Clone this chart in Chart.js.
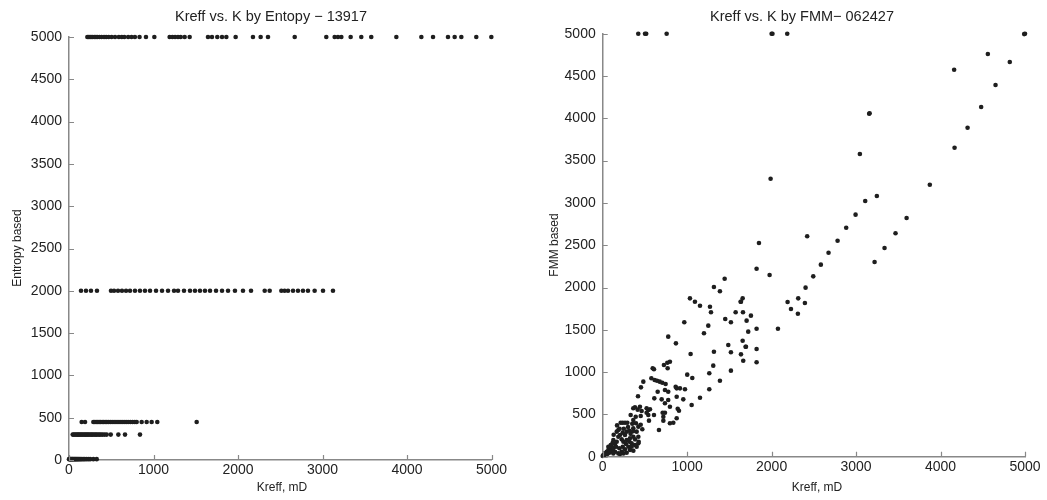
<!DOCTYPE html>
<html><head><meta charset="utf-8">
<script src="https://cdn.jsdelivr.net/npm/chart.js@4.4.1/dist/chart.umd.min.js"></script>
<style>
html,body{margin:0;padding:0;background:#fff;width:1047px;height:500px;overflow:hidden}
.box{position:absolute;top:0;height:500px}
#b1{left:0;width:523px}
#b2{left:523px;width:524px}
canvas{display:block}
</style></head><body>
<div class="box" id="b1"><canvas id="c1"></canvas></div>
<div class="box" id="b2"><canvas id="c2"></canvas></div>
<script>
// ---------- tick labels ----------
const xTickValues = [0, 1000, 2000, 3000, 4000, 5000];
const yTickValues = [0, 500, 1000, 1500, 2000, 2500, 3000, 3500, 4000, 4500, 5000];

// ---------- left chart: Entropy based (rows at discrete levels) ----------
const entropyLevels = [5000, 2000, 450, 300, 10];
const entropyK5000 = [217, 232, 248, 262, 280, 300, 318, 335, 360, 385, 415, 440, 470, 505, 545, 590, 625, 655, 700, 740, 780, 835, 911, 1010,
  1191, 1223, 1255, 1290, 1322, 1369, 1428, 1645, 1692, 1755, 1811, 1862, 1972, 2177, 2268, 2355, 2671,
  3045, 3144, 3183, 3223, 3333, 3459, 3577, 3874, 4170, 4308, 4485, 4564, 4643, 4820, 4998];
const entropyK2000 = [142, 201, 260, 331, 497, 533, 580, 627, 675, 722, 781, 840, 899, 959, 1030, 1101, 1172,
  1243, 1290, 1361, 1432, 1491, 1550, 1609, 1669, 1740, 1811, 1882, 1964, 2059, 2154,
  2316, 2375, 2513, 2552, 2592, 2651, 2710, 2769, 2828, 2907, 3006, 3124];
const entropyK450 = [150, 190, 288, 305, 322, 340, 356, 372, 392, 410, 428, 447, 466, 488, 510, 533, 556, 580, 604, 628, 652, 676, 700, 726, 752, 778, 801, 860, 919, 978, 1045, 1511];
const entropyK300 = [44, 58, 71, 86, 99, 112, 126, 139, 153, 166, 181, 194, 209, 222, 236, 251, 266, 280, 296, 311, 327, 343, 360, 378, 398, 421, 446, 494, 584, 663, 840];
const entropyK0 = [0, 8, 15, 22, 30, 38, 46, 55, 64, 73, 82, 92, 102, 113, 125, 138, 152, 168, 185, 205, 228, 250, 288, 328];

// ---------- right chart: FMM based (K, value) pairs ----------
const fmmK = [421, 501, 515, 757, 2000, 2010, 2185, 5000, 4990,
  4560, 4820, 4161, 4651, 4481, 3155, 3160, 4320, 4166, 3045, 3873, 3246, 3108, 2994, 3598, 1988, 2883, 3467, 1850, 2421, 2781, 3337, 2674, 3219,
  1822, 1976, 2583, 2493, 2402, 1444, 1317, 1388, 1033, 1657, 2315, 1633, 2189, 2394, 2229, 2311, 1661, 1755, 1704, 1723, 1822, 2075, 1657, 1692, 1822,
  1092, 1152, 1270, 1282, 1574, 1637, 1451, 1518, 966, 1250, 1199, 776, 867, 1041, 1317, 1487, 1518, 1637, 1696, 1664, 1822, 1309, 1518, 1262, 1388,
  1001, 1061, 1262, 1152, 1053, 954, 888, 903, 876, 796, 836, 666, 718, 718, 607, 796, 876, 864, 915, 974, 776, 876, 651, 698, 776, 611, 737, 710, 737, 737,
  765, 796, 769, 725, 592, 607, 576, 615, 643, 675, 706, 745, 481, 453, 418, 414, 441, 362, 382, 461, 450, 520, 540, 560, 520, 540, 548, 469, 391, 362, 331,
  394, 422, 450, 362, 402, 422, 426, 422, 213, 237, 264, 292, 350,
  166, 185, 237, 264, 284, 316, 185, 205, 126, 166, 225, 245, 284, 323, 363, 343, 383, 304, 264, 225, 185, 146, 107, 87, 67, 47, 28, 8, 16, 39, 79, 107,
  126, 146, 118, 95, 67, 158, 197, 237, 276, 316, 343, 383, 402, 363, 323, 284, 245, 205, 0, 55, 87, 126, 170, 200, 300, 250, 130, 330, 360];
const fmmVal = [5000, 5000, 5000, 5000, 5000, 5000, 5000, 5000, 4995,
  4760, 4665, 4574, 4394, 4134, 4054, 4060, 3889, 3652, 3578, 3215, 3082, 3022, 2861, 2822, 3286, 2707, 2641, 2526, 2605, 2553, 2467, 2411, 2301,
  2222, 2148, 2270, 2132, 1998, 2104, 2006, 1955, 1872, 1872, 1872, 1832, 1829, 1817, 1746, 1690, 1707, 1667, 1608, 1478, 1513, 1513, 1371, 1300, 1273,
  1832, 1785, 1773, 1707, 1707, 1832, 1628, 1589, 1589, 1549, 1459, 1419, 1340, 1214, 1241, 1320, 1234, 1210, 1300, 1135, 1116, 1076, 1017, 986, 898,
  970, 930, 797, 697, 611, 678, 567, 544, 454, 395, 402, 316, 473, 426, 493, 591, 808, 827, 808, 797, 768, 709, 768, 678, 670, 690, 631, 520, 520, 788,
  1111, 1123, 1045, 1084, 1045, 1033, 927, 907, 898, 887, 875, 859, 887, 820, 714, 556, 591, 572, 584, 540, 481, 572, 552, 560, 520, 493, 426, 324, 473, 434, 493,
  395, 355, 378, 336, 296, 236, 177, 158, 402, 402, 402, 402, 390,
  296, 315, 284, 256, 296, 307, 236, 256, 197, 177, 205, 177, 197, 217, 236, 158, 138, 118, 87, 59, 39, 59, 118, 99, 79, 59, 39, 20, 16, 32, 47, 71,
  99, 150, 165, 138, 118, 118, 99, 118, 150, 177, 118, 205, 118, 71, 79, 47, 39, 32, 8, 32, 59, 39, 370, 330, 350, 330, 260, 270, 300];

// ---------- build data from arrays ----------
const entropyRows = [entropyK5000, entropyK2000, entropyK450, entropyK300, entropyK0];
const entropyPoints = [];
entropyRows.forEach((row, i) => row.forEach(k => entropyPoints.push({x: k, y: entropyLevels[i]})));
const fmmPoints = fmmK.map((k, i) => ({x: k, y: fmmVal[i]}));

const FONT = '"Liberation Sans", Arial, Helvetica, sans-serif';
const INK = '#1e1e1e';

function makeChart(id, points, L) {
  const textPlugin = {
    id: 'txt' + id,
    afterDraw(chart) {
      const ctx = chart.ctx;
      const xs = chart.scales.x, ys = chart.scales.y;
      const area = chart.chartArea;
      ctx.save();
      // inward tick marks
      ctx.strokeStyle = '#888';
      ctx.lineWidth = 1.2;
      ctx.beginPath();
      xTickValues.forEach(v => {
        const px = Math.round(xs.getPixelForValue(v)) + 0.5;
        ctx.moveTo(px, area.bottom); ctx.lineTo(px, area.bottom - 5);
      });
      yTickValues.forEach(v => {
        const py = Math.round(ys.getPixelForValue(v)) + 0.5;
        ctx.moveTo(area.left, py); ctx.lineTo(area.left + 5, py);
      });
      ctx.stroke();
      // texts
      ctx.fillStyle = '#222';
      ctx.textAlign = 'center';
      ctx.textBaseline = 'middle';
      ctx.font = '14.5px ' + FONT;
      ctx.fillText(L.title, L.titleX, L.titleY);
      ctx.font = '12px ' + FONT;
      ctx.fillText(L.xLabel, L.xLabelX, L.xLabelY);
      ctx.translate(L.yLabelX, L.yLabelY);
      ctx.rotate(-Math.PI / 2);
      ctx.fillText(L.yLabel, 0, 0);
      ctx.restore();
    }
  };
  return new Chart(document.getElementById(id), {
    type: 'scatter',
    data: { datasets: [{ data: points, clip: false, pointRadius: 2.3, pointHoverRadius: 2.3, pointBackgroundColor: INK, pointBorderWidth: 0, showLine: false }] },
    options: {
      responsive: true, maintainAspectRatio: false, animation: false,
      layout: { padding: { top: L.top, right: L.right, bottom: 0, left: 0 } },
      plugins: { legend: { display: false }, tooltip: { enabled: false }, title: { display: false } },
      scales: {
        x: {
          type: 'linear', min: 0, max: 5000,
          afterBuildTicks: s => { s.ticks = xTickValues.map(v => ({ value: v })); },
          afterFit: s => { s.height = L.xh; },
          grid: { display: false, drawTicks: false },
          border: { display: true, color: '#888', width: 1.5 },
          ticks: { font: { size: 14, family: FONT }, color: '#222', padding: 2, maxRotation: 0, autoSkip: false, callback: v => String(v) }
        },
        y: {
          type: 'linear', min: 0, max: 5000,
          afterBuildTicks: s => { s.ticks = yTickValues.map(v => ({ value: v })); },
          afterFit: s => { s.width = L.yw; },
          grid: { display: false, drawTicks: false },
          border: { display: true, color: '#888', width: 1.5 },
          ticks: { font: { size: 14, family: FONT }, color: '#222', padding: 7, autoSkip: false, callback: v => String(v) }
        }
      }
    },
    plugins: [textPlugin]
  });
}

makeChart('c1', entropyPoints, {
  top: 37, right: 31.5, xh: 40, yw: 69,
  title: 'Kreff vs. K by Entopy \u2212 13917', titleX: 271, titleY: 17,
  xLabel: 'Kreff, mD', xLabelX: 282, xLabelY: 488,
  yLabel: 'Entropy based', yLabelX: 18, yLabelY: 248
});
makeChart('c2', fmmPoints, {
  top: 33.7, right: 22, xh: 43.3, yw: 79.7,
  title: 'Kreff vs. K by FMM\u2212 062427', titleX: 279, titleY: 17,
  xLabel: 'Kreff, mD', xLabelX: 294, xLabelY: 488,
  yLabel: 'FMM based', yLabelX: 32, yLabelY: 245
});
</script>
</body></html>
